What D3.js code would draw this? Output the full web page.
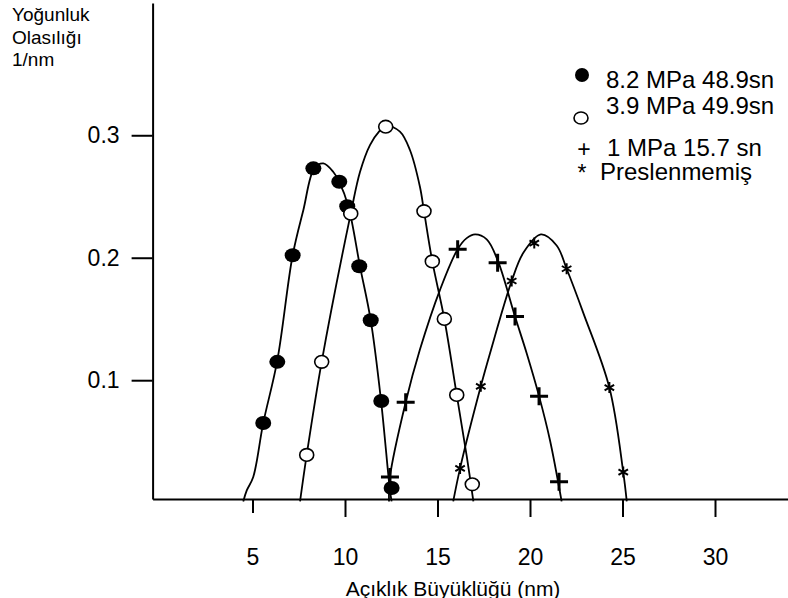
<!doctype html>
<html>
  <head>
    <meta charset="utf-8">
    <script src="https://cdnjs.cloudflare.com/ajax/libs/d3/7.8.5/d3.min.js"></script>
    <style>
      body { margin: 0; background: #fff; }
      svg { display: block; font-family: Arial, "Liberation Sans", sans-serif; }
    </style>
  </head>
  <body>
    <svg></svg>
    <script>
      var width = 788,
          height = 598;

      // legend labels
      var seriesNames = ["8.2 MPa 48.9sn", "3.9 MPa 49.9sn", "1 MPa 15.7 sn", "Preslenmemiş"];
      var titleLines = ["Yoğunluk", "Olasılığı", "1/nm"];
      var xTitle = "Açıklık Büyüklüğü (nm)";
      var xTicks = [5, 10, 15, 20, 25, 30];
      var yTicks = [0.1, 0.2, 0.3];

      // measured points  [size nm, density]
      var filledPts = [[5.58,.065],[6.34,.115],[7.17,.202],[8.29,.273],[9.69,.262],[10.12,.242],[10.77,.193],[11.39,.149],[11.96,.083],[12.52,.012]];
      var openPts   = [[7.93,.039],[8.74,.115],[10.31,.236],[12.20,.307],[14.27,.238],[14.72,.197],[15.37,.150],[16.04,.088],[16.88,.015]];
      var plusPts   = [[12.43,.021],[13.28,.082],[16.09,.207],[18.25,.196],[19.19,.152],[20.49,.087],[21.57,.017]];
      var starPts   = [[16.22,.028],[17.34,.095],[19.01,.181],[20.23,.212],[21.98,.191],[24.29,.094],[25.04,.025]];

      // fitted curves
      var filledFit = [[4.50,.001],[4.69,.010],[5.04,.021],[5.58,.065],[6.34,.116],[7.17,.202],[7.75,.239],[8.34,.273],[8.83,.277],[9.37,.270],[9.69,.262],[10.18,.242],[10.81,.193],[11.39,.149],[11.95,.083],[12.43,.010],[12.52,.001]];
      var openFit   = [[7.57,.001],[7.93,.039],[8.74,.115],[10.31,.236],[10.81,.270],[11.35,.292],[11.89,.304],[12.20,.308],[12.97,.303],[13.51,.288],[14.05,.258],[14.27,.238],[14.72,.197],[15.37,.150],[16.04,.088],[16.58,.038],[16.94,.001]];
      var plusFit   = [[12.38,.001],[12.43,.021],[13.28,.082],[14.05,.125],[15.14,.174],[16.09,.207],[16.58,.216],[17.03,.219],[17.66,.215],[18.25,.198],[19.19,.152],[19.82,.122],[20.49,.087],[21.08,.051],[21.71,.001]];
      var starFit   = [[15.85,.001],[16.22,.028],[17.34,.095],[17.84,.122],[19.01,.181],[19.64,.204],[20.59,.219],[21.44,.210],[21.98,.191],[22.88,.155],[24.29,.094],[25.04,.025],[25.23,.001]];

      var svg = d3.select("svg").attr("width", width).attr("height", height);

      var x = d3.scaleLinear().domain([-0.4, 34]).range([152.6, 789]);
      var y = d3.scaleLinear().domain([0.003, 0.408]).range([499, 3]);

      // axes
      var xAxis = svg.append("g")
          .attr("transform", "translate(0," + y.range()[0] + ")")
          .call(d3.axisBottom(x).tickValues(xTicks).tickSizeInner(18).tickSizeOuter(0).tickPadding(32));
      var yAxis = svg.append("g")
          .attr("transform", "translate(" + x.range()[0] + ",0)")
          .call(d3.axisLeft(y).tickValues(yTicks).tickFormat(d3.format(".1f")).tickSizeInner(21).tickSizeOuter(0).tickPadding(12));
      [xAxis, yAxis].forEach(function(g) {
        g.selectAll("path, line").attr("stroke", "#000").attr("stroke-width", 2);
        g.selectAll("text").attr("font-size", 23).attr("font-family", null).attr("fill", "#000");
      });
      // first tick is a bit shorter in the source
      xAxis.selectAll(".tick line").filter(function(d) { return d === 5; }).attr("y2", 14);

      // fitted lines
      var line = d3.line()
          .x(function(d) { return x(d[0]); })
          .y(function(d) { return y(d[1]); })
          .curve(d3.curveCatmullRom);
      svg.selectAll("path.fit").data([filledFit, openFit, plusFit, starFit])
        .enter().append("path")
          .attr("class", "fit")
          .attr("d", line)
          .attr("fill", "none")
          .attr("stroke", "#000")
          .attr("stroke-width", 1.8);

      // markers
      svg.selectAll("ellipse.filled").data(filledPts)
        .enter().append("ellipse")
          .attr("cx", function(d) { return x(d[0]); })
          .attr("cy", function(d) { return y(d[1]); })
          .attr("rx", 8).attr("ry", 7)
          .attr("fill", "#000");

      svg.selectAll("ellipse.open").data(openPts)
        .enter().append("ellipse")
          .attr("cx", function(d) { return x(d[0]); })
          .attr("cy", function(d) { return y(d[1]); })
          .attr("rx", 7).attr("ry", 6.3)
          .attr("fill", "#fff")
          .attr("stroke", "#000")
          .attr("stroke-width", 1.6);

      var plusShape = { draw: function(ctx, s) {
        ctx.moveTo(-s, 0); ctx.lineTo(s, 0);
        ctx.moveTo(0, -s); ctx.lineTo(0, s);
      }};
      var starShape = { draw: function(ctx, s) {
        var t = s / 2, u = t * Math.sqrt(3);
        ctx.moveTo(0, -s); ctx.lineTo(0, s);
        ctx.moveTo(-u, -t); ctx.lineTo(u, t);
        ctx.moveTo(-u, t); ctx.lineTo(u, -t);
      }};

      svg.selectAll("path.plus").data(plusPts)
        .enter().append("path")
          .attr("class", "plus")
          .attr("transform", function(d) { return "translate(" + x(d[0]) + "," + y(d[1]) + ")"; })
          .attr("d", d3.symbol().type(plusShape).size(9))
          .attr("fill", "none").attr("stroke", "#000").attr("stroke-width", 3);

      svg.selectAll("path.star").data(starPts)
        .enter().append("path")
          .attr("class", "star")
          .attr("transform", function(d) { return "translate(" + x(d[0]) + "," + y(d[1]) + ")"; })
          .attr("d", d3.symbol().type(starShape).size(5.5))
          .attr("fill", "none").attr("stroke", "#000").attr("stroke-width", 2);

      // y title
      svg.append("g").selectAll("text").data(titleLines)
        .enter().append("text")
          .attr("x", 12)
          .attr("y", function(d, i) { return 21 + i * 22.5; })
          .attr("font-size", 19)
          .text(function(d) { return d; });

      // x title (cut by the bottom edge, as in the source)
      svg.append("text")
          .attr("x", 453).attr("y", 596)
          .attr("text-anchor", "middle")
          .attr("font-size", 21)
          .text(xTitle);

      // legend
      var lg = svg.append("g").attr("font-size", 24);
      lg.append("ellipse").attr("cx", 582).attr("cy", 75).attr("rx", 7).attr("ry", 7).attr("fill", "#000");
      lg.append("ellipse").attr("cx", 581).attr("cy", 118).attr("rx", 7).attr("ry", 6)
        .attr("fill", "#fff").attr("stroke", "#000").attr("stroke-width", 1.6);
      lg.append("text").attr("x", 584).attr("y", 157).attr("text-anchor", "middle").attr("font-size", 23).text("+");
      lg.append("text").attr("x", 582).attr("y", 181).attr("text-anchor", "middle").attr("font-size", 23).text("*");
      var legendPos = [[606, 88], [606, 114], [607, 156], [600, 180]];
      lg.selectAll("text.lab").data(seriesNames)
        .enter().append("text")
          .attr("class", "lab")
          .attr("x", function(d, i) { return legendPos[i][0]; })
          .attr("y", function(d, i) { return legendPos[i][1]; })
          .text(function(d) { return d; });
    </script>
  </body>
</html>
